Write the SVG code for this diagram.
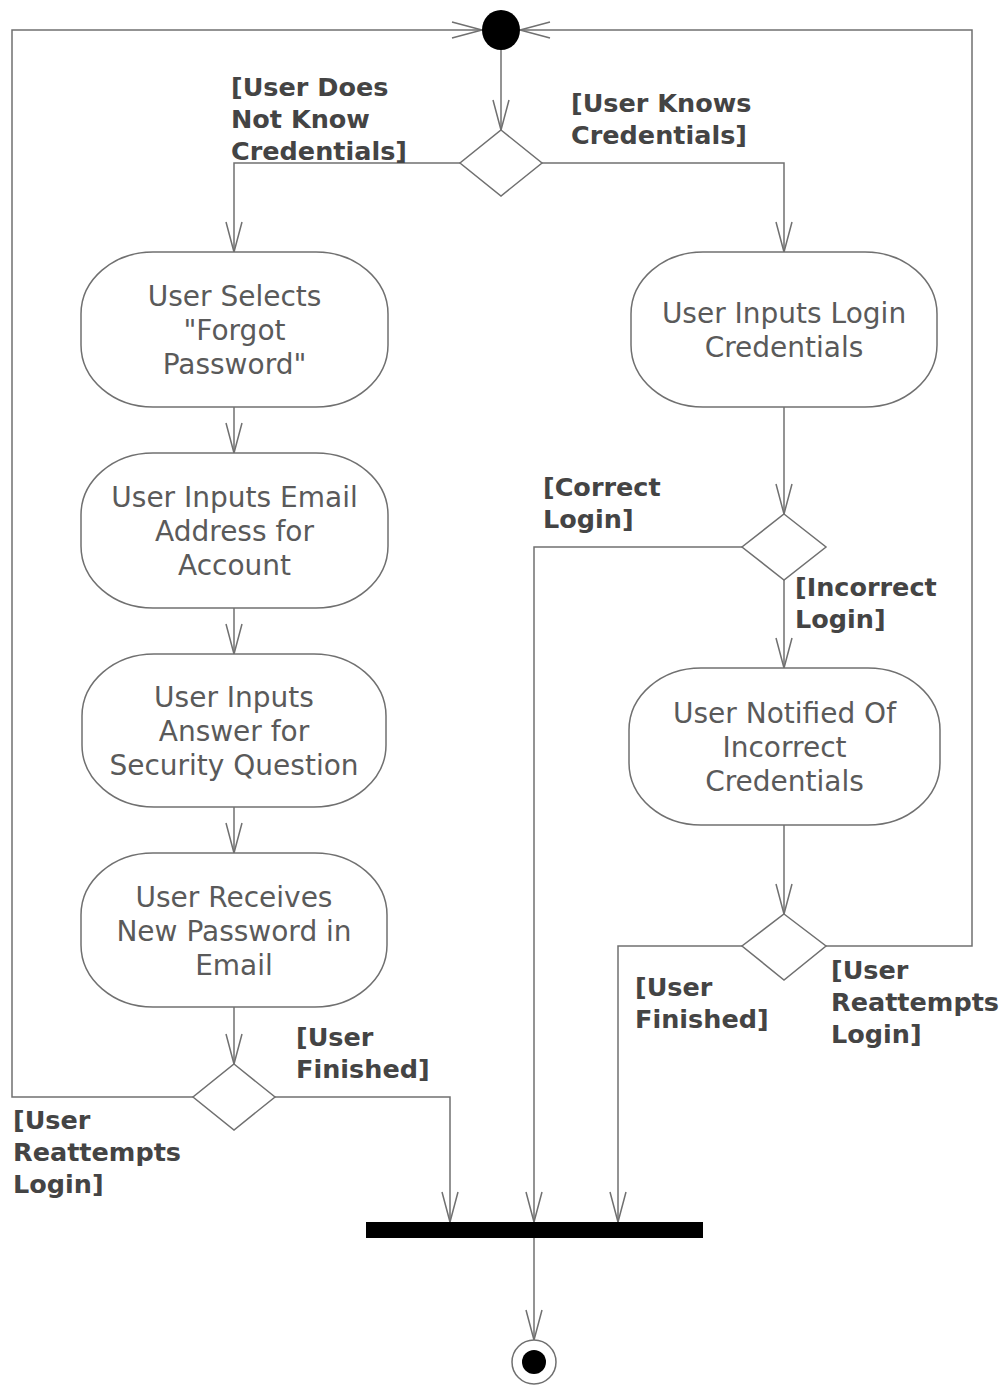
<svg xmlns="http://www.w3.org/2000/svg" width="1000" height="1385" viewBox="0 0 1000 1385">
<style>
.bg{fill:#fff}
.ln{fill:none;stroke:#707070;stroke-width:1.5}
.act{fill:#fff;stroke:#707070;stroke-width:1.5}
.dec{fill:#fff;stroke:#707070;stroke-width:1.5}
.nt{font-family:"DejaVu Sans","Verdana",sans-serif;font-size:28px;fill:#5a5a5a;text-anchor:middle}
.lb{font-family:"DejaVu Sans","Verdana",sans-serif;font-size:25.5px;font-weight:bold;fill:#444}
</style>
<defs>
<marker id="arr" markerUnits="userSpaceOnUse" markerWidth="34" markerHeight="20" refX="31" refY="9" orient="auto">
<path d="M1,1 L31,9 L1,17" fill="none" stroke="#707070" stroke-width="1.5"/>
</marker>
</defs>
<rect class="bg" x="0" y="0" width="1000" height="1385"/>
<g id="connectors">
<path class="ln" d="M501,49 L501,130" marker-end="url(#arr)"/>
<path class="ln" d="M460,163 L234,163 L234,252" marker-end="url(#arr)"/>
<path class="ln" d="M542,163 L784,163 L784,252" marker-end="url(#arr)"/>
<path class="ln" d="M234,407 L234,453" marker-end="url(#arr)"/>
<path class="ln" d="M234,608 L234,654" marker-end="url(#arr)"/>
<path class="ln" d="M234,807 L234,853" marker-end="url(#arr)"/>
<path class="ln" d="M234,1007 L234,1064" marker-end="url(#arr)"/>
<path class="ln" d="M193,1097 L12,1097 L12,30 L482,30" marker-end="url(#arr)"/>
<path class="ln" d="M275,1097 L450,1097 L450,1222" marker-end="url(#arr)"/>
<path class="ln" d="M784,407 L784,514" marker-end="url(#arr)"/>
<path class="ln" d="M742,547 L534,547 L534,1222" marker-end="url(#arr)"/>
<path class="ln" d="M784,580 L784,668" marker-end="url(#arr)"/>
<path class="ln" d="M784,825 L784,914" marker-end="url(#arr)"/>
<path class="ln" d="M742,946 L618,946 L618,1222" marker-end="url(#arr)"/>
<path class="ln" d="M826,946 L972,946 L972,30 L520,30" marker-end="url(#arr)"/>
<path class="ln" d="M534,1238 L534,1340" marker-end="url(#arr)"/>
</g>
<g id="start"><ellipse cx="501" cy="30" rx="19" ry="20" fill="#000"/></g>
<g id="dec1"><polygon class="dec" points="501,130 542,163 501,196 460,163"/></g>
<g id="forgot">
<rect class="act" x="81" y="252" width="307" height="155" rx="72" ry="62"/>
<text class="nt" x="234.5" y="306">User Selects</text>
<text class="nt" x="234.5" y="340">"Forgot</text>
<text class="nt" x="234.5" y="374">Password"</text>
</g>
<g id="email">
<rect class="act" x="81" y="453" width="307" height="155" rx="72" ry="62"/>
<text class="nt" x="234.5" y="507">User Inputs Email</text>
<text class="nt" x="234.5" y="541">Address for</text>
<text class="nt" x="234.5" y="575">Account</text>
</g>
<g id="security">
<rect class="act" x="82" y="654" width="304" height="153" rx="72" ry="62"/>
<text class="nt" x="234" y="707">User Inputs</text>
<text class="nt" x="234" y="741">Answer for</text>
<text class="nt" x="234" y="775">Security Question</text>
</g>
<g id="receive">
<rect class="act" x="81" y="853" width="306" height="154" rx="72" ry="62"/>
<text class="nt" x="234" y="907">User Receives</text>
<text class="nt" x="234" y="941">New Password in</text>
<text class="nt" x="234" y="975">Email</text>
</g>
<g id="dec4"><polygon class="dec" points="234,1064 275,1097 234,1130 193,1097"/></g>
<g id="login">
<rect class="act" x="631" y="252" width="306" height="155" rx="72" ry="62"/>
<text class="nt" x="784" y="323">User Inputs Login</text>
<text class="nt" x="784" y="357">Credentials</text>
</g>
<g id="dec2"><polygon class="dec" points="784,514 826,547 784,580 742,547"/></g>
<g id="notified">
<rect class="act" x="629" y="668" width="311" height="157" rx="72" ry="62"/>
<text class="nt" x="784.5" y="723">User Notified Of</text>
<text class="nt" x="784.5" y="757">Incorrect</text>
<text class="nt" x="784.5" y="791">Credentials</text>
</g>
<g id="dec3"><polygon class="dec" points="784,914 826,946 784,980 742,946"/></g>
<g id="join"><rect x="366" y="1222" width="337" height="16" fill="#000"/></g>
<g id="end">
<circle cx="534" cy="1362" r="22" fill="#fff" stroke="#707070" stroke-width="1.5"/>
<circle cx="534" cy="1362" r="12" fill="#000"/>
</g>
<g id="labels">
<text class="lb" x="231" y="96">[User Does</text>
<text class="lb" x="231" y="128">Not Know</text>
<text class="lb" x="231" y="160">Credentials]</text>
<text class="lb" x="571" y="112">[User Knows</text>
<text class="lb" x="571" y="144">Credentials]</text>
<text class="lb" x="543" y="496">[Correct</text>
<text class="lb" x="543" y="528">Login]</text>
<text class="lb" x="795" y="596">[Incorrect</text>
<text class="lb" x="795" y="628">Login]</text>
<text class="lb" x="296" y="1046">[User</text>
<text class="lb" x="296" y="1078">Finished]</text>
<text class="lb" x="13" y="1129">[User</text>
<text class="lb" x="13" y="1161">Reattempts</text>
<text class="lb" x="13" y="1193">Login]</text>
<text class="lb" x="635" y="996">[User</text>
<text class="lb" x="635" y="1028">Finished]</text>
<text class="lb" x="831" y="979">[User</text>
<text class="lb" x="831" y="1011">Reattempts</text>
<text class="lb" x="831" y="1043">Login]</text>
</g>
</svg>
